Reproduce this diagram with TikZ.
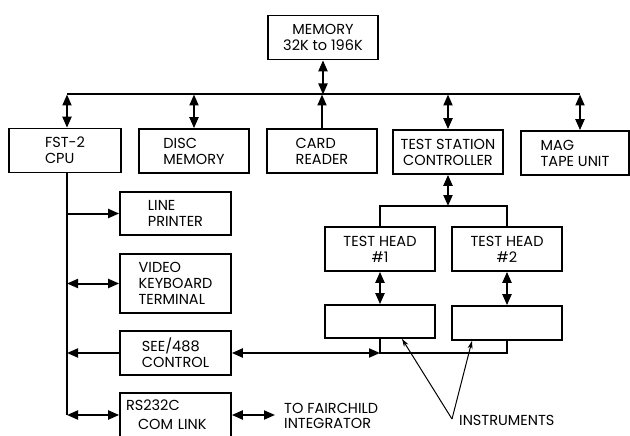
\documentclass[tikz,border=0pt]{standalone}
\usepackage{fontspec}
\setmainfont{Poppins}
\usetikzlibrary{arrows.meta,positioning}
\tikzset{
  blk/.style={draw,line width=1.7pt,minimum width=110pt,minimum height=44pt,align=left,
    inner sep=2pt,font=\fontsize{14.5}{16}\selectfont},
  blkc/.style={blk,align=center},
  bus/.style={line width=2pt},
  twoway/.style={bus,{Triangle[length=11pt,width=9pt]}-{Triangle[length=11pt,width=9pt]}},
  oneway/.style={bus,-{Triangle[length=11pt,width=9pt]}},
  pointer/.style={line width=1pt,-{Stealth[length=8pt,width=5pt]}},
  lbl/.style={font=\fontsize{14.5}{15}\selectfont,align=left,inner sep=0pt}
}
\begin{document}
\begin{tikzpicture}[x=1pt,y=-1pt]
  \useasboundingbox[fill=white] (0,0) rectangle (630,436);
  \clip (0,0) rectangle (630,436);
  % top row
  \node[blkc] (mem) at (323,37.5) {MEMORY\\32K to 196K};
  \node[blk,minimum width=112pt] (cpu) at (65,150.5) {FST-2\\CPU};
  \node[blk] (disc) at (194,151) {DISC\\MEMORY};
  \node[blk] (card) at (322,151) {CARD\\READER};
  \node[blkc] (tsc) at (448,152) {TEST STATION\\CONTROLLER};
  \node[blk,minimum width=108pt] (mag) at (575,153) {MAG\\TAPE UNIT};
  % left column
  \node[blk,minimum width=111pt,minimum height=43pt] (lp) at (175.5,213.5) {LINE\\PRINTER};
  \node[blk,minimum width=111pt,minimum height=59pt] (vkt) at (175.5,283.5) {VIDEO\\KEYBOARD\\TERMINAL};
  \node[blk,minimum width=111pt] (see) at (175.5,353) {SEE/488\\CONTROL};
  \node[blk,text width=99pt,inner sep=6pt,minimum height=44pt] (rs) at (175.5,415) {RS232C\\[3pt]\hspace*{12pt}COM LINK};
  % test heads and instruments
  \node[blkc] (th1) at (380,249) {TEST HEAD\\\#1};
  \node[blkc] (th2) at (507,249) {TEST HEAD\\\#2};
  \node[blk,minimum height=33pt] (in1) at (380,321.5) {};
  \node[blk,minimum height=34pt] (in2) at (507,323) {};
  \node[lbl,anchor=west] (fc) at (284,416) {TO FAIRCHILD\\INTEGRATOR};
  \node[lbl,anchor=west] (ins) at (459,420) {INSTRUMENTS};
  \coordinate (busL) at (67,94.5);
  \coordinate (busR) at (580,94.5);
  \coordinate (fork) at (448,206);
  \coordinate (apex) at (452,419);
  % main bus
  \draw[bus] (busL) -- (busR);
  \draw[twoway] (mem.south) -- (mem.south |- busL);
  \draw[twoway] (busL) -- (busL |- cpu.north);
  \draw[twoway] (disc.north |- busL) -- (disc.north);
  \draw[oneway] (card.north) -- (card.north |- busL);
  \draw[twoway] (tsc.north |- busL) -- (tsc.north);
  \draw[twoway] (busR) -- (busR |- mag.north);
  % cpu side bus
  \draw[bus] (busL |- cpu.south) -- (busL |- rs.west);
  \draw[oneway] (busL |- lp.west) -- (lp.west);
  \draw[twoway] (busL |- vkt.west) -- (vkt.west);
  \draw[oneway] (see.west) -- (busL |- see.west);
  \draw[twoway] (busL |- rs.west) -- (rs.west);
  \draw[twoway,shorten >=9pt] (rs.east) -- (rs.east -| fc.west);
  % test station
  \draw[twoway] (tsc.south) -- (fork);
  \draw[bus] (th1.north) |- (fork) -| (th2.north);
  \draw[twoway] (th1) -- (in1);
  \draw[twoway] (th2) -- (in2);
  \draw[bus] (in1.south) -- (in1.south |- see.east) -| (in2.south);
  \draw[twoway] (see.east) -- (see.east -| in1.south);
  \draw[pointer] (apex) -- ([xshift=22pt]in1.south);
  \draw[pointer] (apex) -- ([xshift=-35pt]in2.south);
\end{tikzpicture}
\end{document}
